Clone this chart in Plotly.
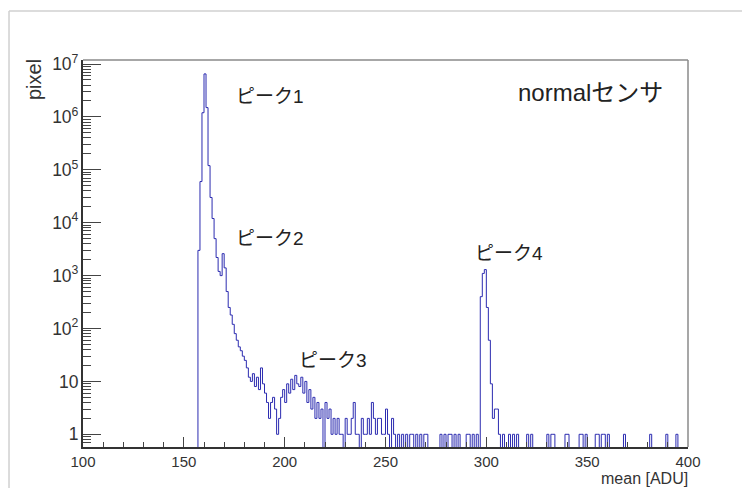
import numpy as np
import plotly.graph_objects as go

# histogram: 1 ADU wide bins from 100 to 400
bin_lo, bin_hi = 100, 400

# dense part, ADU 157 .. 258
dense_start = 157
dense_counts = [
    3000, 60000, 1200000, 6500000, 1500000, 120000, 30000, 12000, 5000, 2200,  # 157-166
    1200, 1000, 2600, 1400, 500, 250, 180, 120, 80, 60,                        # 167-176
    45, 38, 30, 25, 18, 12, 10, 14, 8, 12,                                     # 177-186
    7, 18, 9, 6, 4, 2, 4, 5, 3, 1,                                             # 187-196
    2, 5, 7, 4, 9, 6, 11, 7, 13, 9,                                            # 197-206
    8, 12, 6, 10, 4, 7, 3, 5, 2, 4,                                            # 207-216
    2, 3, 0, 4, 2, 3, 1, 2, 1, 2,                                              # 217-226
    1, 1, 0, 2, 1, 1, 2, 4, 1, 1,                                              # 227-236
    0, 2, 1, 1, 2, 1, 4, 2, 1, 2,                                              # 237-246
    2, 1, 1, 3, 1, 0, 2, 1, 0, 1,                                              # 247-256
    0, 1,                                                                      # 257-258
]

# isolated single-count bins in the tail
single_bins = [260, 262, 263, 265, 267, 269, 270, 277, 279, 281, 282, 284, 286,
               290, 291, 293, 295,
               306, 308, 311, 313, 315, 320, 322, 330, 332, 333, 339, 340, 346,
               347, 349, 354, 355, 357, 358, 360, 368, 381, 389, 394]

# peak 4 around 300 ADU
peak4_bins = [297, 298, 299, 300, 301, 302, 303, 304, 305]
peak4_counts = [400, 1100, 1300, 250, 60, 9, 2, 3, 3]

edges = np.arange(bin_lo, bin_hi + 1)
counts = np.zeros(bin_hi - bin_lo)
counts[dense_start - bin_lo:dense_start - bin_lo + len(dense_counts)] = dense_counts
for b in single_bins:
    counts[b - bin_lo] = 1
for b, c in zip(peak4_bins, peak4_counts):
    counts[b - bin_lo] = c

# empty bins drawn at the bottom of the frame (log axis)
y_draw = np.where(counts > 0, counts, 0.1)
x_step = np.append(edges[:-1], edges[-1])
y_step = np.append(y_draw, y_draw[-1])

fig = go.Figure()
fig.add_trace(go.Scatter(x=x_step, y=y_step, mode="lines", line_shape="hv",
                         line=dict(color="#2b2bb0", width=1), hoverinfo="skip"))

font = "Liberation Sans, Arial, Noto Sans CJK JP, sans-serif"

# page body has an 8px margin, so margins are shifted by 8px
fig.update_layout(
    width=750, height=488,
    margin=dict(l=75, r=70, t=52, b=49),
    paper_bgcolor="white", plot_bgcolor="white",
    showlegend=False,
    font=dict(family=font, color="#333333"),
    xaxis=dict(range=[100, 400], showgrid=False, zeroline=False, automargin=False,
               showline=True, linecolor="#333333", linewidth=1.5,
               ticks="inside", ticklen=10, tickcolor="#444444", tickwidth=1,
               tick0=100, dtick=50, tickfont=dict(size=15, color="#333333"),
               minor=dict(ticks="inside", ticklen=5, tickcolor="#444444", dtick=10, showgrid=False)),
    yaxis=dict(type="log", range=[-0.24, 7.076], showgrid=False, zeroline=False, automargin=False,
               showline=True, linecolor="#333333", linewidth=1.5,
               ticks="inside", ticklen=18, tickcolor="#444444", tickwidth=1,
               tick0=0, dtick=1, exponentformat="power",
               tickfont=dict(size=14, color="#333333"),
               minor=dict(ticks="inside", ticklen=8, tickcolor="#444444", showgrid=False)),
)

# frame top / right in grey
fig.add_shape(type="line", xref="paper", yref="paper", x0=0, x1=1, y0=1, y1=1,
              line=dict(color="#8a8a8a", width=1.5))
fig.add_shape(type="line", xref="paper", yref="paper", x0=1, x1=1, y0=0, y1=1,
              line=dict(color="#8a8a8a", width=1.5))
# outer screenshot border
fig.add_shape(type="line", xref="paper", yref="paper", x0=-0.1223, x1=1.2, y0=1.1266, y1=1.1266,
              line=dict(color="#d0d0d0", width=1.5))
fig.add_shape(type="line", xref="paper", yref="paper", x0=-0.1223, x1=-0.1223, y0=-0.2, y1=1.1266,
              line=dict(color="#d0d0d0", width=1.5))

labels = [("ピーク1", 175.9, 6.38), ("ピーク2", 175.9, 3.71),
          ("ピーク3", 207.1, 1.40), ("ピーク4", 294.3, 3.41)]
for txt, x, y in labels:
    fig.add_annotation(x=x, y=y, text=txt, showarrow=False, xanchor="left", yanchor="middle",
                       xshift=-2, font=dict(size=19, color="#222222"))
fig.add_annotation(x=315.7, y=6.47, text="normalセンサ", showarrow=False, xshift=-2,
                   xanchor="left", yanchor="middle", font=dict(size=24, color="#222222"))

# axis titles, ROOT style
fig.add_annotation(xref="paper", yref="paper", x=-0.08, y=1.008, text="pixel", textangle=-90,
                   showarrow=False, xanchor="center", yanchor="top", font=dict(size=20, color="#333333"))
fig.add_annotation(xref="paper", yref="paper", x=1.004, y=-0.081, text="mean [ADU]",
                   showarrow=False, xanchor="right", yanchor="middle", font=dict(size=16, color="#333333"))

fig.write_html("out.html")
